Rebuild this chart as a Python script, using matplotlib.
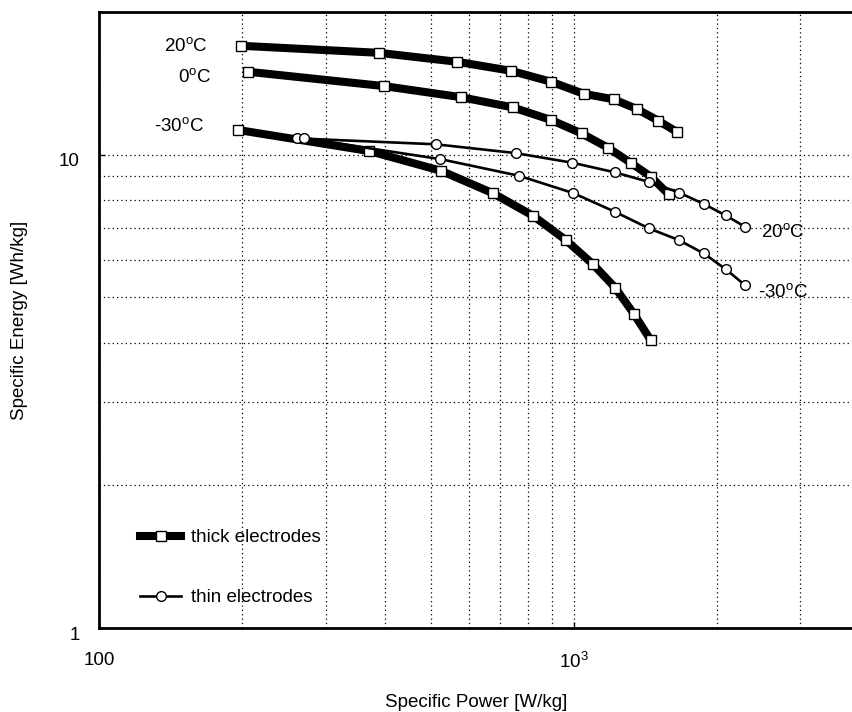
import numpy as np
import matplotlib
matplotlib.use("Agg")
import matplotlib.pyplot as plt
from matplotlib.lines import Line2D
from matplotlib.ticker import FixedLocator, FixedFormatter, NullFormatter
from matplotlib.transforms import ScaledTranslation

plt.rcParams['font.family'] = ['Liberation Sans', 'DejaVu Sans']
plt.rcParams['mathtext.fontset'] = 'custom'
plt.rcParams['mathtext.rm'] = 'Liberation Sans'
plt.rcParams['mathtext.it'] = 'Liberation Sans:italic'

# thick electrodes
thick_20_p = [199, 388, 568, 736, 895, 1048, 1213, 1361, 1505, 1648]
thick_20_e = [16.97, 16.4, 15.7, 15.03, 14.25, 13.44, 13.08, 12.46, 11.79, 11.16]
thick_0_p = [205.6, 398, 577.5, 743, 895, 1038, 1179, 1316, 1452, 1583]
thick_0_e = [14.96, 13.95, 13.22, 12.58, 11.83, 11.08, 10.34, 9.61, 8.98, 8.24]
thick_m30_p = [196, 371, 525, 676, 821, 961, 1098, 1222, 1339, 1450]
thick_m30_e = [11.27, 10.17, 9.24, 8.28, 7.42, 6.60, 5.86, 5.23, 4.60, 4.06]

# thin electrodes
thin_20_p = [260.7, 512, 754, 992, 1220, 1440, 1666, 1878, 2086, 2291]
thin_20_e = [10.82, 10.51, 10.07, 9.61, 9.17, 8.75, 8.31, 7.86, 7.44, 7.04]
thin_m30_p = [270.5, 523, 766, 996.7, 1220, 1440, 1661, 1878, 2086, 2291]
thin_m30_e = [10.82, 9.78, 9.02, 8.29, 7.57, 6.98, 6.60, 6.18, 5.73, 5.30]

fs = 13.5

fig = plt.figure(figsize=(8.53, 7.12), dpi=100)
ax = fig.add_axes([99/853, 84/712, 754/853, 616/712])
ax.set_xscale('log')
ax.set_yscale('log')
ax.set_xlim(100, 3870)
ax.set_ylim(1, 20)

thick_kw = dict(color='black', lw=5.8, marker='s', ms=7.5, mfc='white', mec='black', mew=1.0, zorder=3)
thin_kw = dict(color='black', lw=1.9, marker='o', ms=7, mfc='white', mec='black', mew=1.0, zorder=4)

ax.plot(thick_20_p, thick_20_e, **thick_kw)
ax.plot(thick_0_p, thick_0_e, **thick_kw)
ax.plot(thick_m30_p, thick_m30_e, **thick_kw)
ax.plot(thin_20_p, thin_20_e, **thin_kw)
ax.plot(thin_m30_p, thin_m30_e, **thin_kw)

# curve labels
ax.text(169, 16.97, '20$^{\\rm o}$C', fontsize=fs, ha='right', va='center')
ax.text(172, 14.6, '0$^{\\rm o}$C', fontsize=fs, ha='right', va='center')
ax.text(166, 11.5, '-30$^{\\rm o}$C', fontsize=fs, ha='right', va='center')
ax.text(2477, 6.87, '20$^{\\rm o}$C', fontsize=fs, ha='left', va='center')
ax.text(2440, 5.13, '-30$^{\\rm o}$C', fontsize=fs, ha='left', va='center')

# ticks and grid
ax.xaxis.set_major_locator(FixedLocator([100, 1000]))
ax.xaxis.set_major_formatter(FixedFormatter(['100', '$10^3$']))
ax.xaxis.set_minor_locator(FixedLocator([200, 300, 400, 500, 600, 700, 800, 900, 2000, 3000]))
ax.xaxis.set_minor_formatter(NullFormatter())
ax.yaxis.set_major_locator(FixedLocator([1, 10]))
ax.yaxis.set_major_formatter(FixedFormatter(['1', '10']))
ax.yaxis.set_minor_locator(FixedLocator([2, 3, 4, 5, 6, 7, 8, 9]))
ax.yaxis.set_minor_formatter(NullFormatter())
ax.tick_params(which='major', direction='in', length=4, width=1, labelsize=fs)
ax.tick_params(which='minor', length=0)
ax.tick_params(axis='x', which='major', pad=17)
ax.tick_params(axis='y', which='major', pad=14)
for lab in ax.get_yticklabels():
    lab.set_transform(lab.get_transform() + ScaledTranslation(0, -5/100, fig.dpi_scale_trans))

ax.grid(True, which='both', color='black', linestyle=(0, (1, 2.5)), linewidth=0.9)

for s in ['left', 'bottom', 'top']:
    ax.spines[s].set_linewidth(2)
ax.spines['right'].set_visible(False)

ax.set_xlabel('Specific Power [W/kg]', fontsize=fs, labelpad=16)
ax.set_ylabel('Specific Energy [Wh/kg]', fontsize=fs, labelpad=22)

handles = [Line2D([], [], color='black', lw=5.8, marker='s', ms=7.5, mfc='white', mec='black', mew=1.0),
           Line2D([], [], color='black', lw=1.9, marker='o', ms=7, mfc='white', mec='black', mew=1.0)]
ax.legend(handles, ['thick electrodes', 'thin electrodes'], loc='lower left',
          bbox_to_anchor=(41/754, 0.035), frameon=False, fontsize=fs,
          handlelength=2.2, handletextpad=0.5, labelspacing=2.3, borderpad=0, borderaxespad=0)

fig.savefig('out.png', dpi=100)
